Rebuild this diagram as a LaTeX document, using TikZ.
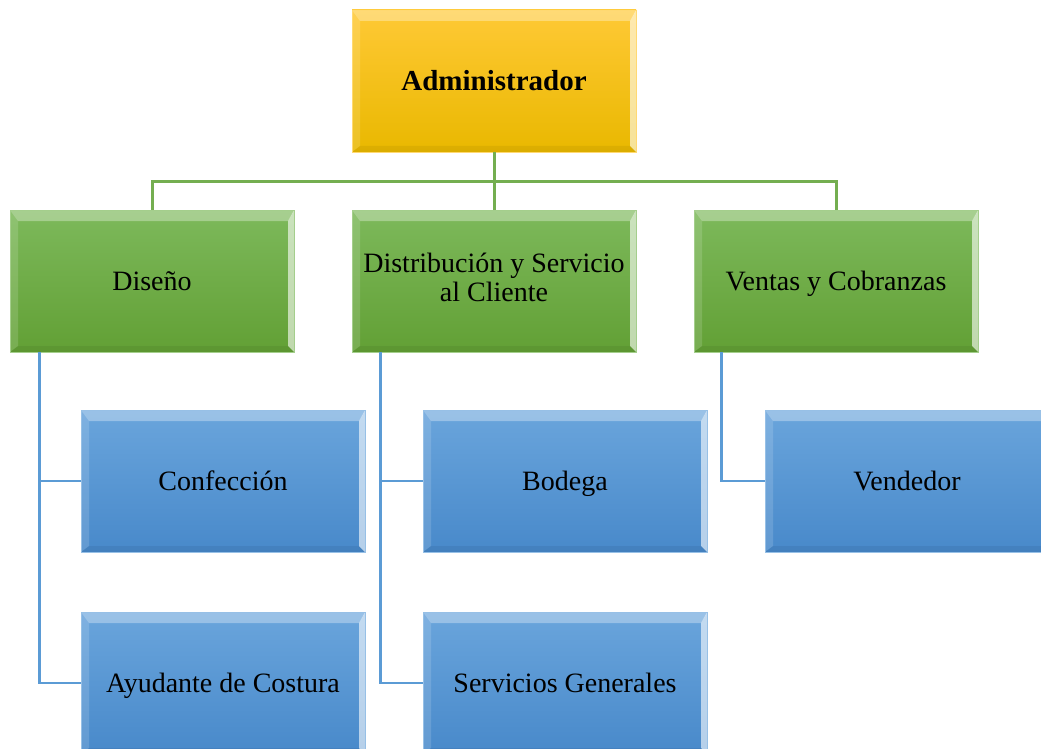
\documentclass[tikz,border=0pt]{standalone}
\usepackage{fontspec}
\setmainfont{Liberation Serif}
\newcommand\boxstrut{\rule[-7pt]{0pt}{33pt}}
\definecolor{goldT}{HTML}{FFC936}
\definecolor{goldB}{HTML}{E9B800}
\definecolor{grnT}{HTML}{7DB95B}
\definecolor{grnB}{HTML}{62A035}
\definecolor{bluT}{HTML}{6AA5DC}
\definecolor{bluB}{HTML}{4889CA}
\definecolor{grnLine}{HTML}{74AE50}
\definecolor{bluLine}{HTML}{5B9BD5}
\tikzset{
  bevel/.style={path picture={
    \coordinate (NW) at (path picture bounding box.north west);
    \coordinate (NE) at (path picture bounding box.north east);
    \coordinate (SW) at (path picture bounding box.south west);
    \coordinate (SE) at (path picture bounding box.south east);
    \coordinate (iNW) at ([xshift=8pt,yshift=-11pt]NW);
    \coordinate (iNE) at ([xshift=-6pt,yshift=-11pt]NE);
    \coordinate (iSW) at ([xshift=8pt,yshift=6pt]SW);
    \coordinate (iSE) at ([xshift=-6pt,yshift=6pt]SE);
    \fill[white,opacity=.32] (NW) -- (NE) -- (iNE) -- (iNW) -- cycle;
    \fill[white,opacity=.14] (NW) -- (iNW) -- (iSW) -- (SW) -- cycle;
    \fill[white,opacity=.6] (NE) -- (SE) -- (iSE) -- (iNE) -- cycle;
    \fill[black,opacity=.06] (SW) -- (iSW) -- (iSE) -- (SE) -- cycle;
  }},
  box/.style={rectangle, minimum width=284pt, minimum height=142pt,
    inner sep=0pt, align=center,
    font=\fontsize{28}{30}\selectfont, execute at begin node=\boxstrut, bevel},
  goldbox/.style={box, top color=goldT, bottom color=goldB, draw=goldT!70!white, line width=.8pt},
  grnbox/.style={box, top color=grnT, bottom color=grnB, draw=grnT!70!white, line width=.8pt},
  blubox/.style={box, top color=bluT, bottom color=bluB, draw=bluT!70!white, line width=.8pt},
  gline/.style={draw=grnLine, line width=3pt},
  bline/.style={draw=bluLine, line width=2.6pt},
}
\begin{document}
\begin{tikzpicture}[x=1pt,y=-1pt]
\useasboundingbox (0,0) rectangle (1041,749);
\clip (0,0) rectangle (1041,749);
\coordinate (bus) at (494,181);
% nodes
\node[goldbox] (admin) at (494,81) {\bfseries\fontsize{29}{32}\selectfont Administrador};
\node[grnbox] (dise) at (152,281) {Diseño};
\node[grnbox] (dist) at (494,281) {Distribución y Servicio\\[-4pt]\boxstrut al Cliente};
\node[grnbox] (vent) at (836,281) {Ventas y Cobranzas};
\node[blubox] (conf) at (223,481) {Confección};
\node[blubox] (ayud) at (223,683) {Ayudante de Costura};
\node[blubox] (bode) at (565,481) {Bodega};
\node[blubox] (serv) at (565,683) {Servicios Generales};
\node[blubox] (vend) at (907,481) {Vendedor};
% green connectors
\draw[gline] (dise.north) |- (bus) -| (vent.north);
\draw[gline] (admin.south) -- (dist.north);
% blue connectors
\draw[bline] ([xshift=30pt]dise.south west) |- (conf.west);
\draw[bline] ([xshift=30pt]dise.south west) |- (ayud.west);
\draw[bline] ([xshift=29pt]dist.south west) |- (bode.west);
\draw[bline] ([xshift=29pt]dist.south west) |- (serv.west);
\draw[bline] ([xshift=28pt]vent.south west) |- (vend.west);
\end{tikzpicture}
\end{document}
